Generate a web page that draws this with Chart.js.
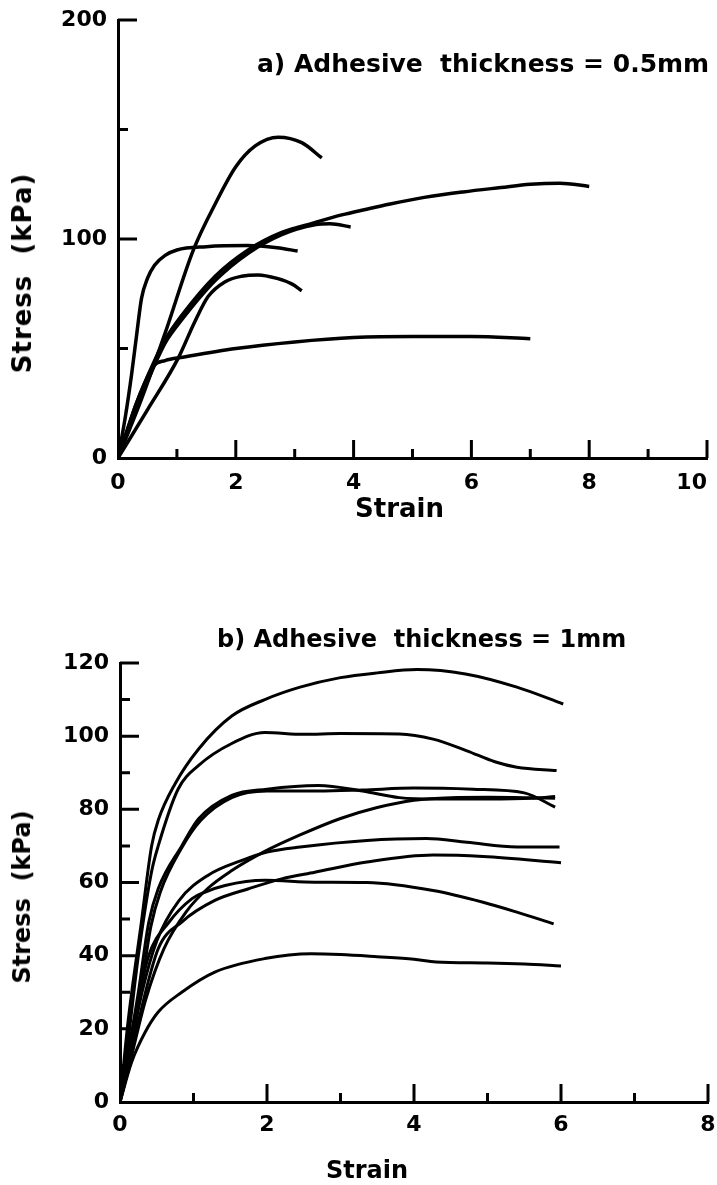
<!DOCTYPE html>
<html>
<head>
<meta charset="utf-8">
<script src="https://cdn.jsdelivr.net/npm/chart.js@4.4.1/dist/chart.umd.min.js"></script>
<style>
  body { margin: 0; background: #fff; width: 717px; height: 1185px; position: relative; overflow: hidden;
         font-family: 'DejaVu Sans', sans-serif; font-weight: bold; color: #000; }
  canvas { position: absolute; left: 0; }
  #topChart { top: 0; }
  #botChart { top: 590px; }
  .label { position: absolute; white-space: pre; font-size: 26px; line-height: 26px; }
  .ylabel { transform: translate(-50%, -50%) rotate(-90deg); }
</style>
</head>
<body>
<canvas id="topChart" width="717" height="540"></canvas>
<canvas id="botChart" width="717" height="595"></canvas>
<div class="label" style="left:257px; top:51px; font-size:25px">a) Adhesive  thickness = 0.5mm</div>
<div class="label" style="left:217px; top:626px; font-size:24px">b) Adhesive  thickness = 1mm</div>
<div class="label" style="left:355px; top:495px">Strain</div>
<div class="label" style="left:326px; top:1157px; font-size:24px">Strain</div>
<div class="label ylabel" style="left:22px; top:273px; letter-spacing:1px">Stress  (kPa)</div>
<div class="label ylabel" style="left:22px; top:897px; font-size:24px">Stress  (kPa)</div>

<script>
// a) adhesive thickness 0.5mm  -- [strain, stress kPa]
const topPeak = [[0,0],[0.4,27],[0.8,57],[1.28,95],[1.65,116],[2.0,133],[2.33,142.5],[2.72,146.5],[3.12,144],[3.46,137]];
const topFlat = [[0,0],[0.12,18],[0.23,38],[0.32,57],[0.4,73],[0.5,82],[0.62,88],[0.8,92.5],[1.0,95],[1.5,96.5],[2.2,97],[2.7,96],[3.05,94.5]];
const topLong = [[0,0],[0.3,24],[0.63,45],[0.8,54],[1.08,65],[1.65,83],[2.21,95],[2.78,103],[3.34,107.5],[3.8,111],[4.2,113.5],[4.62,116],[5.2,119],[5.86,121.5],[6.5,123.5],[7.0,125],[7.5,125.5],[8.0,124]];
const topMid = [[0,0],[0.3,22],[0.63,43],[0.8,52.5],[1.08,63],[1.65,81],[2.21,93.5],[2.78,102],[3.34,106.5],[3.6,107],[3.95,105.5]];
const topLow = [[0,0],[0.5,22],[1.02,45.5],[1.3,62],[1.53,73.7],[1.82,80.5],[2.1,83],[2.38,83.6],[2.7,82],[2.95,79.5],[3.12,76.4]];
const topPlateau = [[0,0],[0.15,12],[0.3,24],[0.45,34],[0.6,42],[0.8,44.5],[1.1,46],[2,50],[3,53],[4,55],[5,55.5],[6,55.5],[7,54.5]];

// b) adhesive thickness 1mm
const bot1 = [[0,0],[0.11,22],[0.29,49],[0.43,70],[0.52,77],[0.75,87],[1.07,96.5],[1.52,105.5],[1.97,110],[2.45,113.4],[3.0,116],[3.5,117.3],[4.04,118.2],[4.7,117],[5.4,113.4],[6.03,108.8]];
const bot2 = [[0,0],[0.1,15],[0.25,40],[0.43,63],[0.52,70],[0.79,85.5],[1.07,92],[1.52,98],[1.97,101],[2.5,100.5],[3.0,100.7],[3.8,100.6],[4.26,99.2],[4.72,96],[5.1,93],[5.4,91.5],[5.94,90.6]];
const bot3 = [[0,0],[0.1,12],[0.25,30],[0.39,49],[0.52,58.3],[0.84,70],[1.07,77.4],[1.52,83.8],[2.0,85.5],[2.7,86.5],[3.3,85],[3.8,83.2],[4.3,82.8],[5.0,82.8],[5.6,83],[5.92,83.5]];
const bot4 = [[0,0],[0.12,12],[0.28,30],[0.42,48],[0.55,57.5],[0.84,69.5],[1.1,77],[1.52,83.2],[2.0,85],[2.7,85],[3.3,85.3],[4.0,85.8],[4.8,85.5],[5.5,84.5],[5.92,80.6]];
const bot5 = [[0,0],[0.15,12],[0.35,28],[0.6,42],[0.9,52],[1.2,58.5],[1.5,63],[1.97,68.5],[2.45,73],[3.0,77.5],[3.5,80.5],[4.0,82.5],[4.5,83.2],[5.0,83.3],[5.5,83.2],[5.92,83]];
const bot6 = [[0,0],[0.12,12],[0.3,30],[0.5,44],[0.8,55],[1.2,62],[1.65,66],[2.0,68.3],[2.45,69.7],[3.36,71.5],[4.17,72],[4.72,71],[5.4,69.7],[5.98,69.7]];
const bot7 = [[0,0],[0.1,8],[0.25,22],[0.52,41.9],[0.84,49.2],[1.29,55.1],[1.75,58.3],[2.2,61],[2.65,62.8],[3.36,65.6],[4.26,67.5],[4.94,67.1],[6.0,65.4]];
const bot8 = [[0,0],[0.1,12],[0.25,28],[0.39,40],[0.66,49],[0.98,55.6],[1.16,57.4],[1.43,59.2],[1.97,60.6],[2.65,60.1],[3.36,60],[4.26,57.8],[4.94,54.6],[5.4,51.9],[5.9,48.7]];
const bot9 = [[0,0],[0.16,11],[0.34,19],[0.52,24.6],[0.84,30],[1.29,35.5],[1.97,39.2],[2.6,40.5],[3.0,40.3],[3.5,39.7],[4.0,39],[4.3,38.3],[5.0,38],[5.5,37.7],[6.0,37.2]];

// tick marks (drawn inward)
const topXMajor = [2, 4, 6, 8, 10];
const topXMinor = [1, 3, 5, 7, 9];
const topYMajor = [100, 200];
const topYMinor = [50, 150];
const botXMajor = [2, 4, 6, 8];
const botXMinor = [1, 3, 5, 7];
const botYMajor = [20, 40, 60, 80, 100, 120];
const botYMinor = [10, 30, 50, 70, 90, 110];

const inwardTicks = {
  id: 'inwardTicks',
  afterDatasetsDraw(chart, args, opts) {
    const {ctx, scales: {x, y}} = chart;
    ctx.save();
    ctx.strokeStyle = '#000';
    ctx.lineWidth = 3;
    ctx.beginPath();
    const mark = (list, len, horiz) => list.forEach(v => {
      if (horiz) {
        const px = x.getPixelForValue(v);
        ctx.moveTo(px, y.bottom);
        ctx.lineTo(px, y.bottom - len);
      } else {
        const py = y.getPixelForValue(v);
        ctx.moveTo(x.left, py);
        ctx.lineTo(x.left + len, py);
      }
    });
    mark(opts.xMajor, 18, true);
    mark(opts.xMinor, 9, true);
    mark(opts.yMajor, 19, false);
    mark(opts.yMinor, 10, false);
    ctx.stroke();
    ctx.restore();
  }
};

function toPoints(arr) {
  return arr.map(p => ({x: p[0], y: p[1]}));
}

function fixSize(size) {
  return function(scale) {
    if (scale.isHorizontal()) scale.height = size;
    else scale.width = size;
    scale.paddingLeft = 0;
    scale.paddingRight = 0;
    scale.paddingTop = 0;
    scale.paddingBottom = 0;
  };
}

function makeChart(id, curves, o) {
  return new Chart(document.getElementById(id), {
    type: 'scatter',
    data: {
      datasets: curves.map(c => ({
        data: toPoints(c),
        showLine: true,
        borderColor: '#000',
        borderWidth: o.lineWidth,
        pointRadius: 0,
        cubicInterpolationMode: 'monotone',
        fill: false
      }))
    },
    options: {
      responsive: false,
      animation: false,
      layout: { padding: { top: o.top, right: o.right, left: 0, bottom: 0 } },
      plugins: {
        legend: { display: false },
        tooltip: { enabled: false },
        inwardTicks: o.ticks
      },
      scales: {
        x: {
          type: 'linear',
          min: 0,
          max: o.xMax,
          afterFit: fixSize(o.xHeight),
          grid: { display: false, drawTicks: false },
          border: { display: true, color: '#000', width: 3 },
          ticks: {
            stepSize: 1,
            autoSkip: false,
            maxRotation: 0,
            padding: o.xPad,
            color: '#000',
            font: { family: 'DejaVu Sans', size: 22, weight: 'bold' },
            // last label sits left of its tick, as in the original
            callback: v => (v % 2 !== 0 ? '' : (v === 10 ? '10    ' : v))
          }
        },
        y: {
          type: 'linear',
          min: 0,
          max: o.yMax,
          afterFit: fixSize(o.yWidth),
          grid: { display: false, drawTicks: false },
          border: { display: true, color: '#000', width: 3 },
          ticks: {
            stepSize: o.yStep,
            autoSkip: false,
            padding: 11,
            color: '#000',
            font: { family: 'DejaVu Sans', size: 22, weight: 'bold' },
            callback: v => (v % o.yLabelEvery === 0 ? v : '')
          }
        }
      }
    },
    plugins: [inwardTicks]
  });
}

const topChart = makeChart('topChart',
  [topPeak, topFlat, topLong, topMid, topLow, topPlateau],
  { lineWidth: 3.5, top: 20, right: 10, xMax: 10, yMax: 200, yStep: 50, yLabelEvery: 100,
    xHeight: 82, yWidth: 118, xPad: 12,
    ticks: { xMajor: topXMajor, xMinor: topXMinor, yMajor: topYMajor, yMinor: topYMinor } });

const botChart = makeChart('botChart',
  [bot1, bot2, bot3, bot4, bot5, bot6, bot7, bot8, bot9],
  { lineWidth: 3, top: 73, right: 9, xMax: 8, yMax: 120, yStep: 10, yLabelEvery: 20,
    xHeight: 83, yWidth: 120, xPad: 10,
    ticks: { xMajor: botXMajor, xMinor: botXMinor, yMajor: botYMajor, yMinor: botYMinor } });
</script>
</body>
</html>
